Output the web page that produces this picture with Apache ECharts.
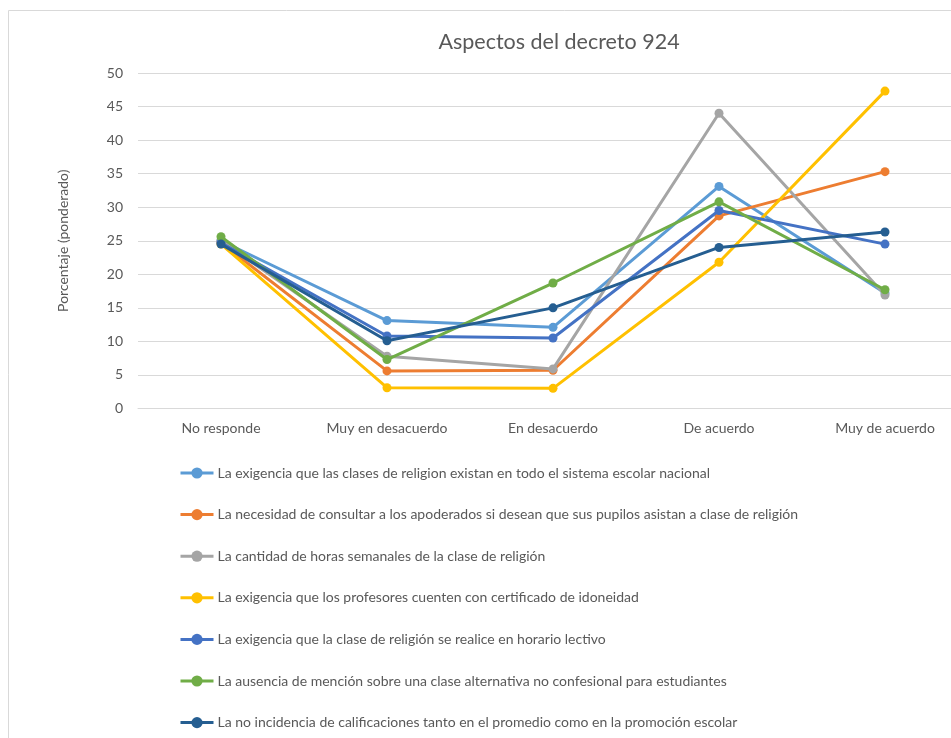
<!DOCTYPE html>
<html>
<head>
<meta charset="utf-8">
<script src="https://cdn.jsdelivr.net/npm/echarts@6/dist/echarts.min.js"></script>
<style>html,body{margin:0;padding:0;background:#fff;overflow:hidden;width:951px;height:738px;}#c{width:1120px;height:738px;}</style>
</head>
<body>
<div id="c"></div>
<script>
var categories = ["No responde", "Muy en desacuerdo", "En desacuerdo", "De acuerdo", "Muy de acuerdo"];
var seriesNames = [
  "La exigencia que las clases de religion existan en todo el sistema escolar nacional",
  "La necesidad de consultar a los apoderados si desean que sus pupilos asistan a clase de religión",
  "La cantidad de horas semanales de la clase de religión",
  "La exigencia que los profesores cuenten con certificado de idoneidad",
  "La exigencia que la clase de religión se realice en horario lectivo",
  "La ausencia de mención sobre una clase alternativa no confesional para estudiantes",
  "La no incidencia de calificaciones tanto en el promedio como en la promoción escolar"
];
var s1 = [25.0, 13.1, 12.1, 33.1, 17.2];
var s2 = [24.7, 5.6, 5.7, 28.7, 35.3];
var s3 = [25.0, 7.8, 5.9, 44.0, 16.9];
var s4 = [24.5, 3.1, 3.0, 21.8, 47.3];
var s5 = [24.7, 10.8, 10.5, 29.5, 24.5];
var s6 = [25.6, 7.3, 18.7, 30.8, 17.7];
var s7 = [24.5, 10.1, 15.0, 24.0, 26.3];
var yTicks = [0, 5, 10, 15, 20, 25, 30, 35, 40, 45, 50];

var colors = ["#5B9BD5", "#ED7D31", "#A5A5A5", "#FFC000", "#4472C4", "#70AD47", "#255E91"];
var allData = [s1, s2, s3, s4, s5, s6, s7];
var font = "Lato, 'Open Sans', sans-serif";

var chart = echarts.init(document.getElementById('c'), null, {renderer: 'canvas'});
chart.setOption({
  animation: false,
  color: colors,
  textStyle: {fontFamily: font, color: '#595959'},
  graphic: [{
    type: 'rect', silent: true,
    shape: {x: 8.5, y: 10.5, width: 1300, height: 900},
    style: {fill: 'none', stroke: '#D9D9D9', lineWidth: 1}
  }],
  title: {
    text: 'Aspectos del decreto 924',
    left: 559, top: 31, textAlign: 'center', padding: 0,
    textStyle: {fontFamily: font, fontSize: 21.5, fontWeight: 'normal', color: '#595959'}
  },
  grid: {left: 138, top: 73, width: 830, height: 335.5, containLabel: false},
  xAxis: {
    type: 'category', data: categories, boundaryGap: true,
    axisLine: {show: true, lineStyle: {color: '#D9D9D9', width: 1}},
    axisTick: {show: false},
    axisLabel: {color: '#595959', fontSize: 14, margin: 13, fontFamily: font, interval: 0}
  },
  yAxis: {
    type: 'value', min: yTicks[0], max: yTicks[yTicks.length - 1], interval: 5,
    name: 'Porcentaje (ponderado)', nameLocation: 'middle', nameGap: 68, nameRotate: 90,
    nameTextStyle: {color: '#595959', fontSize: 14, fontFamily: font},
    axisLine: {show: false}, axisTick: {show: false},
    axisLabel: {color: '#595959', fontSize: 14, margin: 15, fontFamily: font},
    splitLine: {lineStyle: {color: '#D9D9D9', width: 1}}
  },
  legend: {
    orient: 'vertical', left: 179, top: 466, padding: 0,
    itemWidth: 33, itemHeight: 14, itemGap: 27.6,
    lineStyle: {width: 3},
    textStyle: {color: '#595959', fontSize: 14, fontFamily: font, padding: [0,0,0,-1]},
    data: seriesNames
  },
  series: seriesNames.map(function (n, i) {
    return {
      name: n, type: 'line', data: allData[i],
      symbol: 'circle', symbolSize: 9,
      lineStyle: {width: 3, color: colors[i]},
      itemStyle: {color: colors[i]},
      z: 2 + i
    };
  })
});
</script>
</body>
</html>
